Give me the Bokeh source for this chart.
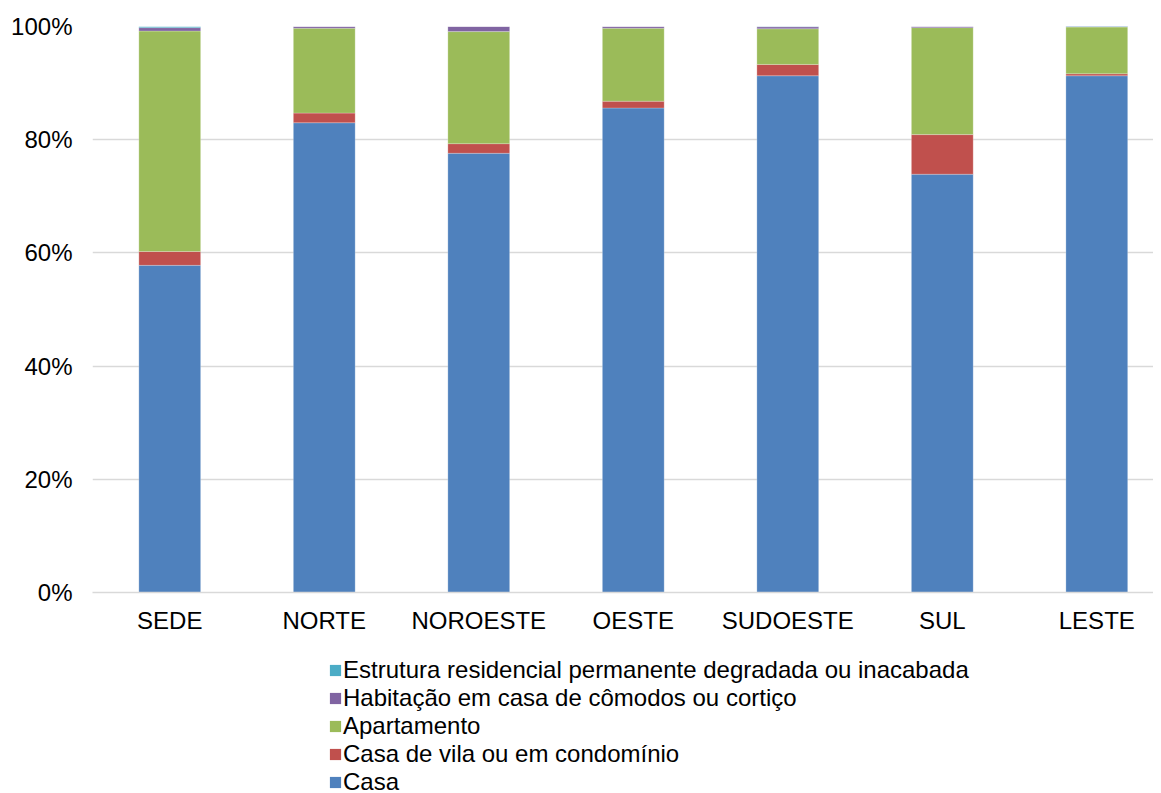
from bokeh.plotting import figure
from bokeh.layouts import column
from bokeh.models import ColumnDataSource, Legend, LegendItem, FixedTicker
from bokeh.embed import file_html
from bokeh.resources import INLINE

regions = ["SEDE", "NORTE", "NOROESTE", "OESTE", "SUDOESTE", "SUL", "LESTE"]
casa = [57.8, 83.0, 77.6, 85.6, 91.3, 73.9, 91.3]
casa_vila = [2.45, 1.7, 1.7, 1.2, 2.0, 7.0, 0.35]
apartamento = [38.95, 15.0, 19.8, 12.9, 6.3, 18.9, 8.25]
habitacao = [0.6, 0.3, 0.9, 0.3, 0.35, 0.2, 0.2]
estrutura = [0.2, 0.02, 0.02, 0.02, 0.05, 0.02, 0.02]

series_names = [
    "Casa",
    "Casa de vila ou em condomínio",
    "Apartamento",
    "Habitação em casa de cômodos ou cortiço",
    "Estrutura residencial permanente degradada ou inacabada",
]
colors = ["#4F81BD", "#C0504D", "#9BBB59", "#8064A2", "#4BACC6"]
keys = ["casa", "vila", "apto", "hab", "estr"]
y_ticks = [0, 20, 40, 60, 80, 100]

xs = list(range(len(regions)))
source = ColumnDataSource(dict(x=xs, casa=casa, vila=casa_vila, apto=apartamento,
                               hab=habitacao, estr=estrutura))

FONT = "Liberation Sans"
FS = "24px"

p = figure(width=1153, height=642, output_backend="svg", toolbar_location=None,
           x_range=(-0.5, 6.367), y_range=(0, 100),
           min_border_left=92, min_border_right=0, min_border_top=26, min_border_bottom=50)
p.outline_line_color = None

p.vbar_stack(keys, x="x", width=0.4, source=source, color=colors,
             line_color="white", line_width=0.6, line_alpha=0.4)

p.xaxis.ticker = FixedTicker(ticks=xs)
p.xaxis.major_label_overrides = {i: r for i, r in enumerate(regions)}
p.xaxis.major_label_text_font = FONT
p.xaxis.major_label_text_font_size = FS
p.xaxis.major_label_text_color = "#000000"
p.xaxis.major_tick_line_color = None
p.xaxis.minor_tick_line_color = None
p.xaxis.axis_line_color = "#D9D9D9"
p.xaxis.axis_line_width = 1.5
p.xaxis.major_label_standoff = 8

p.yaxis.ticker = FixedTicker(ticks=y_ticks)
p.yaxis.major_label_overrides = {v: f"{v}%" for v in y_ticks}
p.yaxis.major_label_text_font = FONT
p.yaxis.major_label_text_font_size = FS
p.yaxis.major_label_text_color = "#000000"
p.yaxis.major_tick_line_color = None
p.yaxis.minor_tick_line_color = None
p.yaxis.axis_line_color = None
p.yaxis.major_label_standoff = 14

p.xgrid.grid_line_color = None
p.ygrid.grid_line_color = "#D9D9D9"
p.ygrid.grid_line_width = 1.5
p.ygrid.level = "underlay"

# legend figure below the chart
leg = figure(width=1153, height=160, output_backend="svg", toolbar_location=None,
             x_axis_type=None, y_axis_type=None, x_range=(0, 1), y_range=(0, 1),
             min_border_left=0, min_border_right=0, min_border_top=0, min_border_bottom=0)
leg.outline_line_color = None
leg.xgrid.grid_line_color = None
leg.ygrid.grid_line_color = None
dummy = [leg.vbar(x=[-5], top=[0], width=0.1, color=c, line_color=None) for c in colors]
items = [LegendItem(label=series_names[i], renderers=[dummy[i]]) for i in reversed(range(5))]
legend = Legend(items=items, location=(236, 6), orientation="vertical",
                label_text_font=FONT, label_text_font_size=FS, label_text_color="#000000",
                glyph_width=14, glyph_height=14, label_height=24, label_standoff=1,
                spacing=0, padding=0, margin=0, border_line_color=None,
                background_fill_alpha=0)
leg.add_layout(legend, "center")

layout = column(p, leg, spacing=0)
open("out.html", "w").write(file_html(layout, INLINE))
